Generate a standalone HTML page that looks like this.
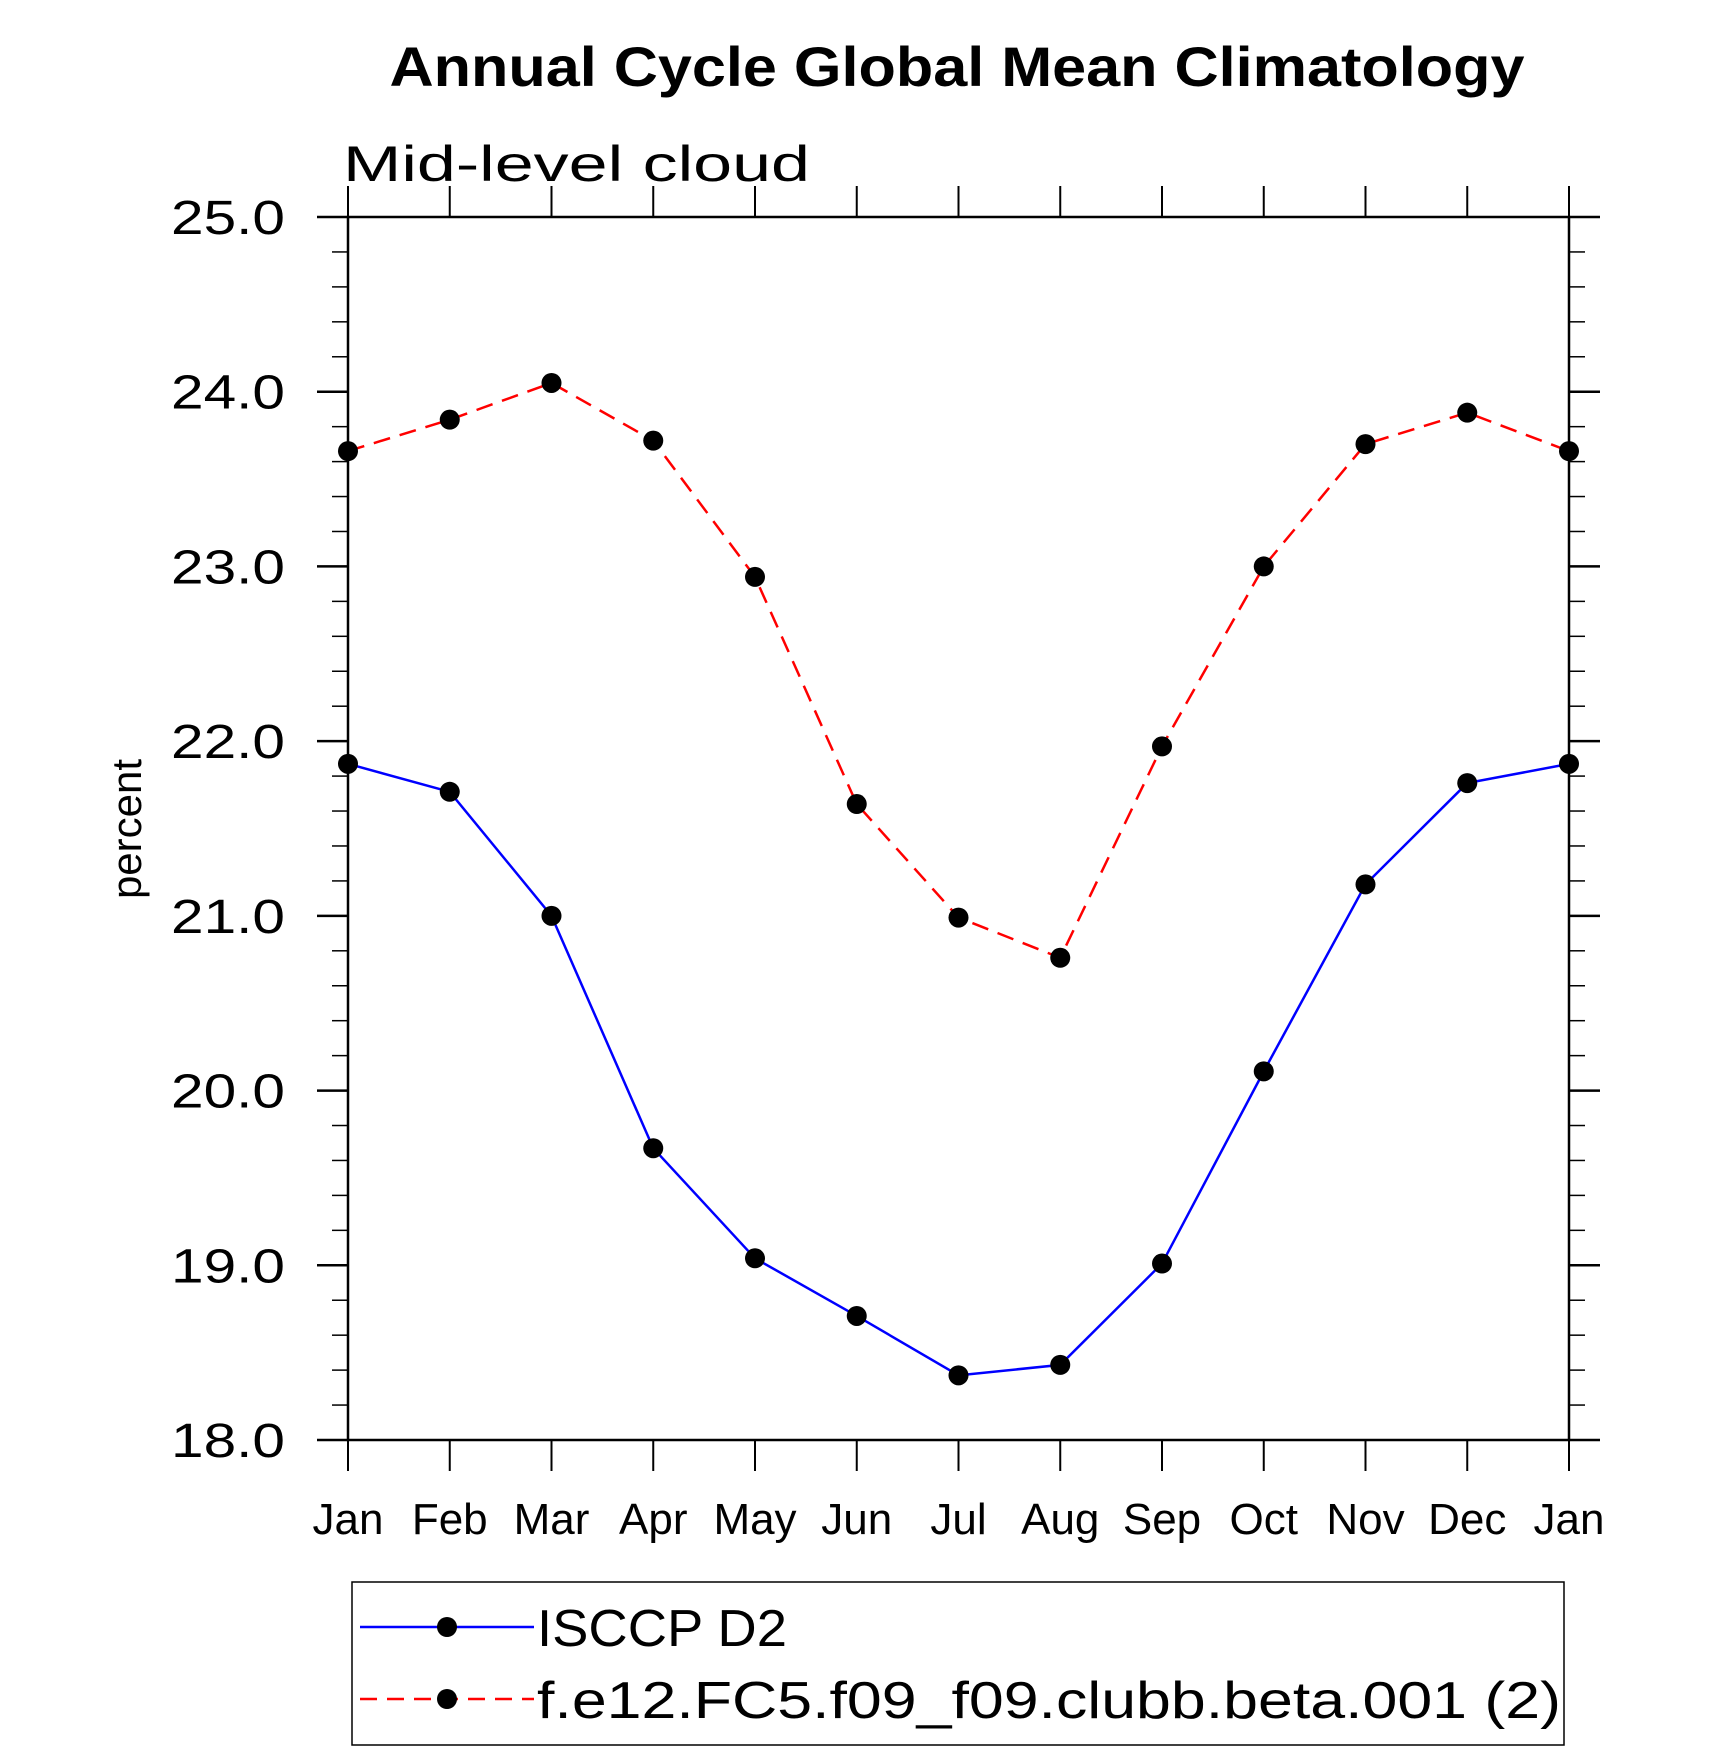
<!DOCTYPE html>
<html><head><meta charset="utf-8"><style>
html,body{margin:0;padding:0;background:#fff}
svg{display:block}
text{font-family:"Liberation Sans",sans-serif}
.t{font-weight:300;fill:#000}
</style></head><body>
<svg id="chart" width="1710" height="1751" viewBox="0 0 1710 1751">
<text x="957" y="86" text-anchor="middle" font-size="56" font-weight="bold" textLength="1135" lengthAdjust="spacingAndGlyphs">Annual Cycle Global Mean Climatology</text>
<text class="t" x="343" y="181" font-size="50" textLength="467" lengthAdjust="spacingAndGlyphs">Mid-level cloud</text>
<text class="t" x="0" y="0" font-size="42" text-anchor="middle" transform="translate(141,829) rotate(-90)">percent</text>
<g id="axes"></g>
<g id="series"></g>
<rect x="352" y="1582" width="1212" height="163" fill="none" stroke="#000" stroke-width="1.5"/>
<g>
<line x1="360" y1="1627" x2="534" y2="1627" stroke="#00f" stroke-width="2.5"/>
<circle cx="447" cy="1627" r="10" fill="#000"/>
<text class="t" x="537" y="1646" font-size="52" textLength="250" lengthAdjust="spacingAndGlyphs">ISCCP D2</text>
</g>
<g>
<line x1="360" y1="1699" x2="534" y2="1699" stroke="#f00" stroke-width="2.5" stroke-dasharray="17,10"/>
<circle cx="447" cy="1699" r="10" fill="#000"/>
<text class="t" x="537" y="1718" font-size="52" textLength="1024" lengthAdjust="spacingAndGlyphs">f.e12.FC5.f09_f09.clubb.beta.001 (2)</text>
</g>
</svg>
<script>
const months=["Jan","Feb","Mar","Apr","May","Jun","Jul","Aug","Sep","Oct","Nov","Dec","Jan"];
const isccp=[21.87,21.71,21.0,19.67,19.04,18.71,18.37,18.43,19.01,20.11,21.18,21.76,21.87];
const model=[23.66,23.84,24.05,23.72,22.94,21.64,20.99,20.76,21.97,23.0,23.70,23.88,23.66];
const yTicks=[18,19,20,21,22,23,24,25];
const yTickLabels=["18.0","19.0","20.0","21.0","22.0","23.0","24.0","25.0"];
const L=348,R=1569,T=217,B=1440,ymin=18,ymax=25;
const xs=i=>L+(R-L)*i/(months.length-1);
const ys=v=>B-(B-T)*(v-ymin)/(ymax-ymin);
const NS="http://www.w3.org/2000/svg";
function mk(tag,attrs,parent){const e=document.createElementNS(NS,tag);for(const k in attrs)e.setAttribute(k,attrs[k]);parent.appendChild(e);return e;}
const ax=document.getElementById('axes');
const fr=mk('rect',{x:L,y:T,width:R-L,height:B-T,fill:'none',stroke:'#000','stroke-width':2.5},ax);


for(let v=ymin;v<=ymax+1e-9;v+=0.2){
  const y=ys(v);const major=Math.abs(v-Math.round(v))<1e-6;const len=major?31:16;
  mk('line',{x1:L-len,y1:y,x2:L,y2:y,stroke:'#000','stroke-width':major?2.5:1.5},ax);
  mk('line',{x1:R,y1:y,x2:R+len,y2:y,stroke:'#000','stroke-width':major?2.5:1.5},ax);
}
yTicks.forEach((v,i)=>{
  const t=mk('text',{x:285,y:ys(v)+17,'font-size':48,'text-anchor':'end',class:'t',textLength:114,lengthAdjust:'spacingAndGlyphs'},ax);
  t.textContent=yTickLabels[i];
  
  
});
months.forEach((m,i)=>{
  const x=xs(i);
  mk('line',{x1:x,y1:T-31,x2:x,y2:T,stroke:'#000','stroke-width':2},ax);
  mk('line',{x1:x,y1:B,x2:x,y2:B+31,stroke:'#000','stroke-width':2},ax);
  const t=mk('text',{x:x,y:1534,'font-size':44,'text-anchor':'middle',class:'t'},ax);
  t.textContent=m;
  
  
});
const sg=document.getElementById('series');
function draw(data,color,dash,name){
  const g=mk('g',{},sg);
  
  
  const pts=data.map((v,i)=>xs(i)+','+ys(v)).join(' ');
  const a={points:pts,fill:'none',stroke:color,'stroke-width':2.5};
  if(dash)a['stroke-dasharray']=dash;
  mk('polyline',a,g);
  data.forEach((v,i)=>{
    const c=mk('circle',{cx:xs(i),cy:ys(v),r:10,fill:'#000'},g);
    
    
  });
}
draw(isccp,'#00f',null,'series-isccp-d2');
draw(model,'#f00','17,10','series-model');
</script>
</body></html>
